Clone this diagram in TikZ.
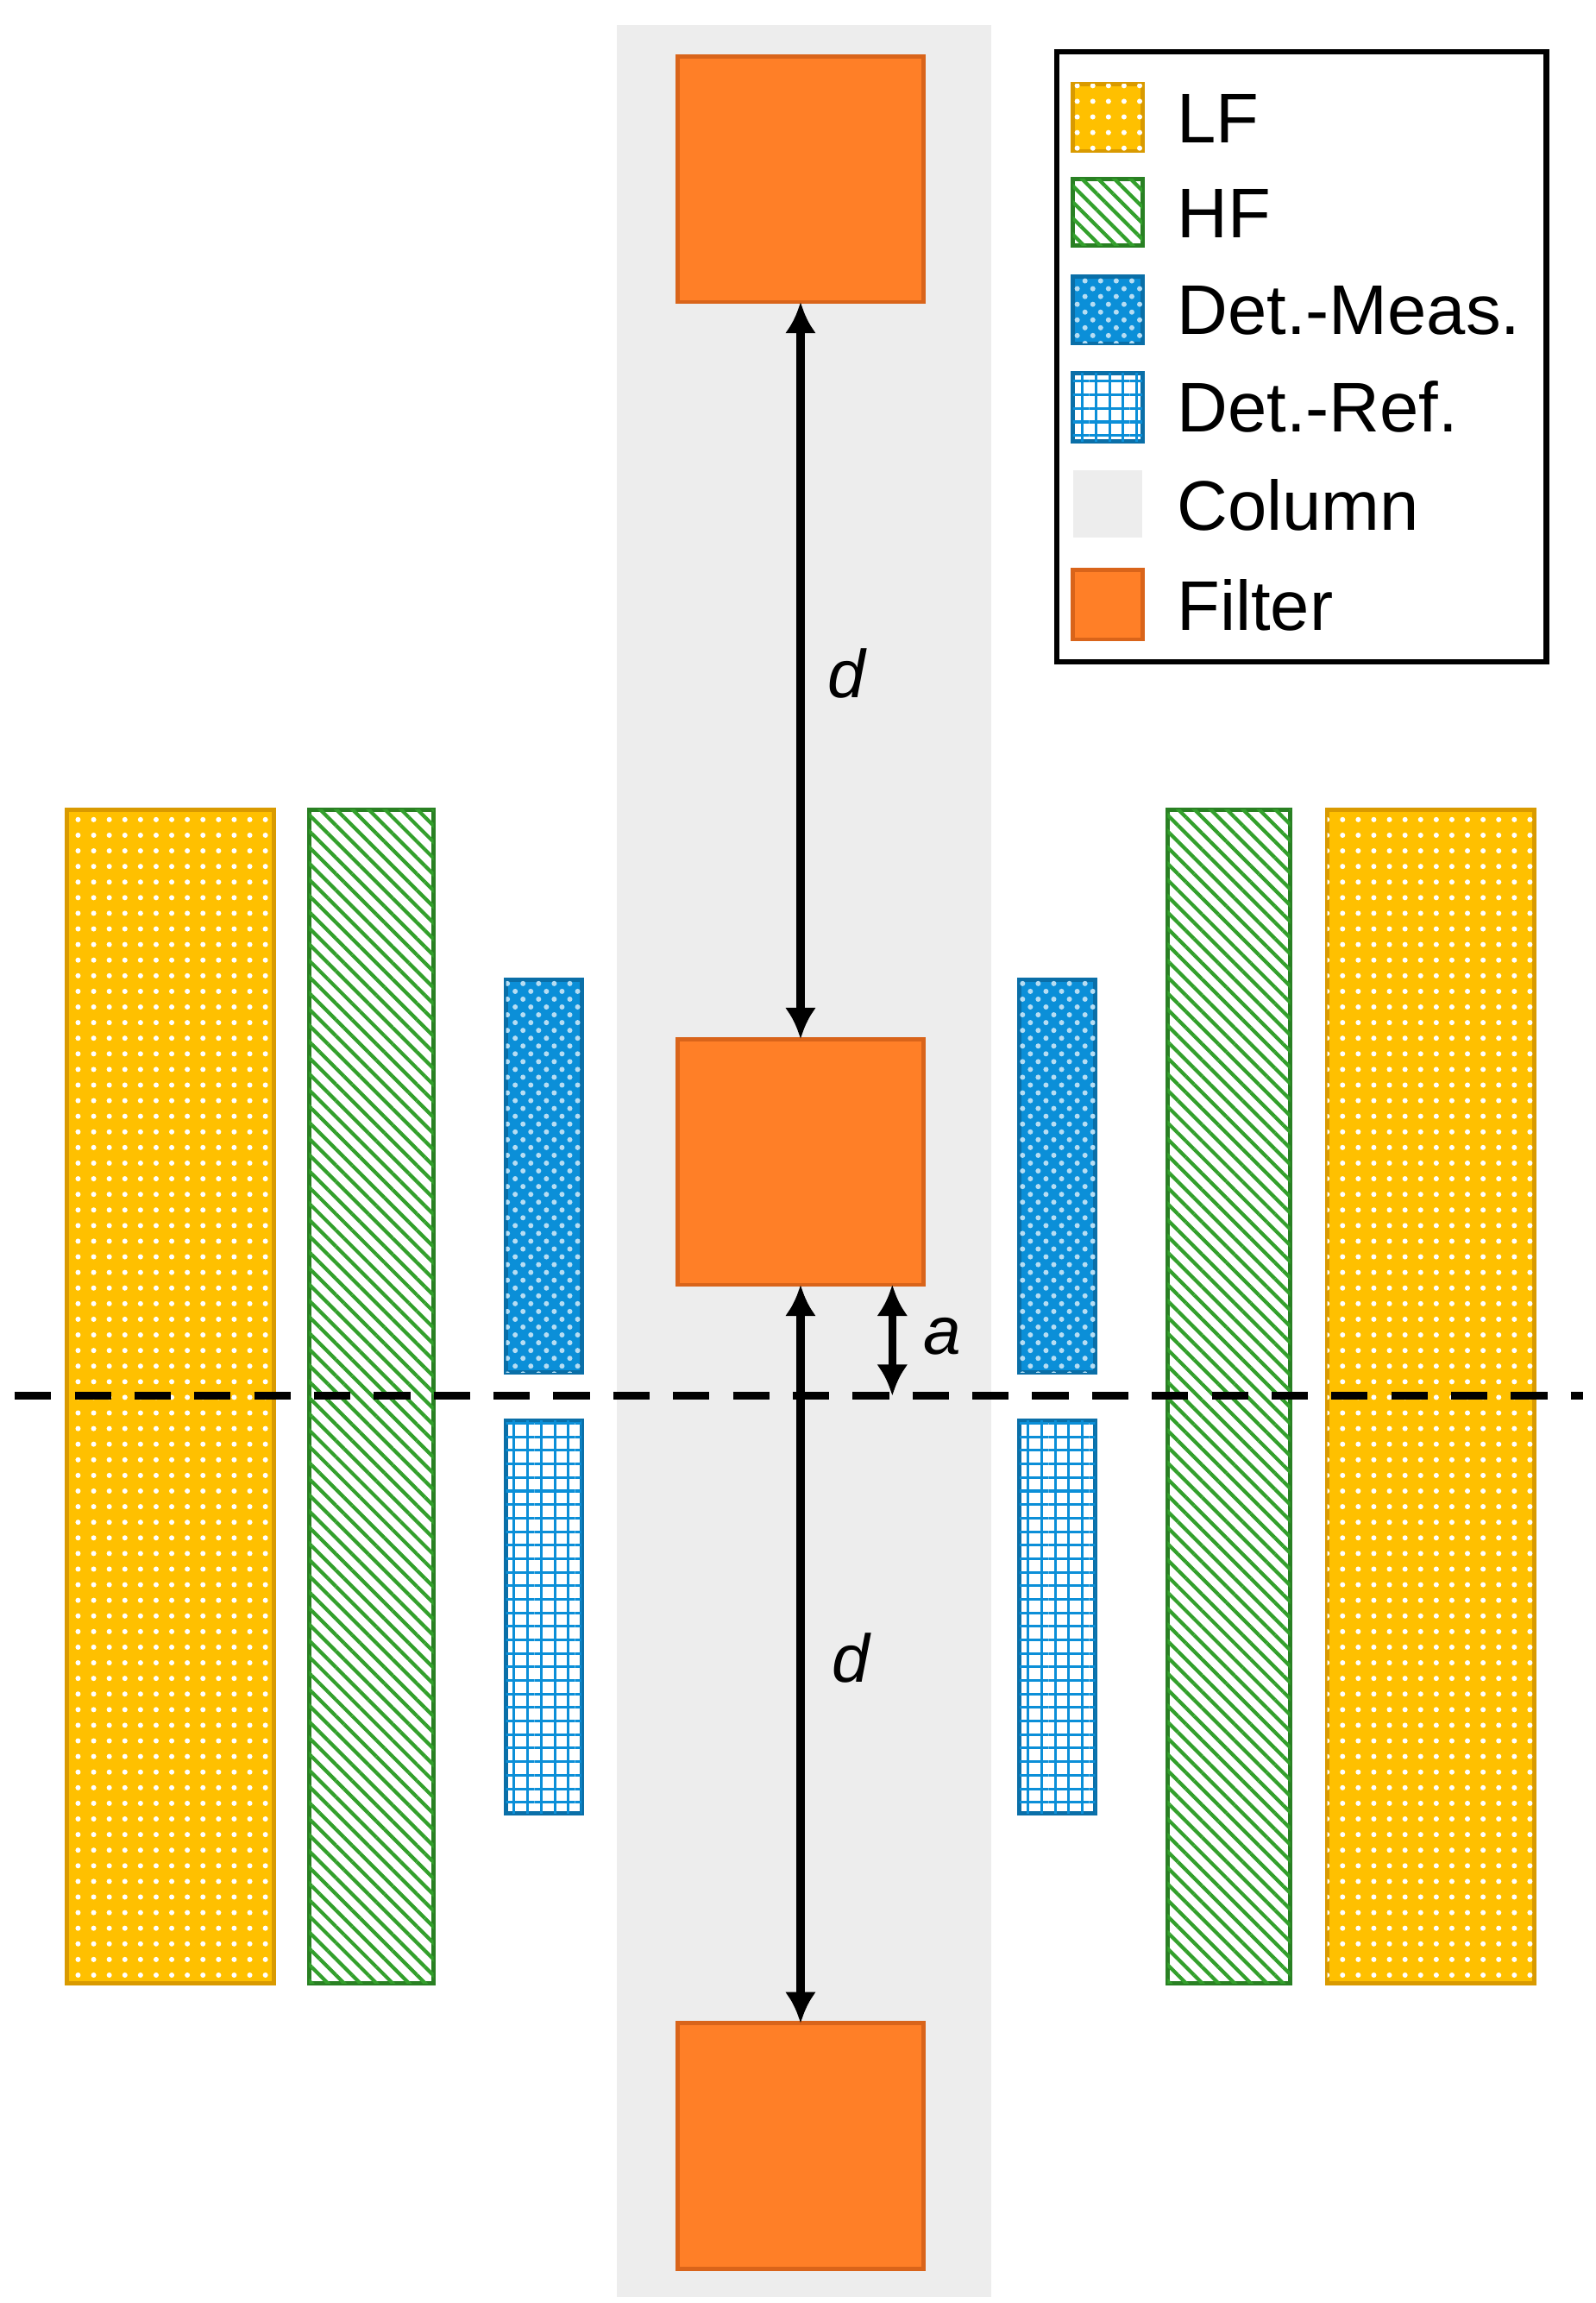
\documentclass[tikz,border=0pt]{standalone}
\usepackage{fontspec}
\setmainfont{Liberation Sans}
\usetikzlibrary{patterns,patterns.meta,arrows.meta}
\definecolor{lfc}{HTML}{FFC000}
\definecolor{lfd}{HTML}{D99A00}
\definecolor{hfc}{HTML}{33A02C}
\definecolor{detc}{HTML}{0B8FD8}
\definecolor{detd}{HTML}{0A6FA8}
\definecolor{colc}{HTML}{EDEDED}
\definecolor{filc}{HTML}{FF7F27}
\definecolor{fild}{HTML}{D9641A}
\begin{document}
\begin{tikzpicture}[x=0.01cm,y=-0.01cm,
  lf/.style={fill=lfc,draw=lfd,line width=0.8pt,postaction={pattern=dots,pattern color=white}},
  hf/.style={fill=white,draw=hfc!80!black,line width=0.8pt,postaction={pattern={Lines[angle=-45,distance=2.2pt,line width=0.7pt]},pattern color=hfc}},
  meas/.style={fill=detc,draw=detd,line width=0.8pt,postaction={pattern=crosshatch dots,pattern color=white!70!detc}},
  ref/.style={fill=white,draw=detd,line width=0.8pt,postaction={pattern={Lines[angle=0,distance=2.6pt,line width=0.5pt]},pattern color=detc},postaction={pattern={Lines[angle=90,distance=2.6pt,line width=0.5pt]},pattern color=detc}},
  col/.style={fill=colc,draw=none},
  fil/.style={fill=filc,draw=fild,line width=0.8pt},
  filn/.style={fil,minimum width=1.66cm,minimum height=1.66cm,inner sep=0,outer sep=0},
  dim/.style={{Latex[length=6pt,width=6pt]}-{Latex[length=6pt,width=6pt]},line width=1.6pt},
  lbl/.style={font=\fontsize{13}{15}\selectfont\itshape},
  legt/.style={anchor=west,font=\fontsize{13.5}{15}\selectfont}]
\useasboundingbox (0,0) rectangle (1078,1556);
\fill[col] (417,17) rectangle (670,1552);
\node[filn] (f1) at (541,121) {};
\node[filn] (f2) at (541,785) {};
\node[filn] (f3) at (541,1450) {};
\coordinate (at) at (603,868);
\coordinate (ab) at (603,943);
% side elements
\path[lf] (45,547) rectangle (185,1340);
\path[lf] (897,547) rectangle (1037,1340);
\path[hf] (209,547) rectangle (293,1340);
\path[hf] (789,547) rectangle (872,1340);
\path[meas] (342,662) rectangle (393,927);
\path[meas] (689,662) rectangle (740,927);
\path[ref] (342,960) rectangle (393,1225);
\path[ref] (689,960) rectangle (740,1225);
\coordinate (dl) at (10,943);
\coordinate (dr) at (1070,943);
\draw[line width=1.6pt,dash pattern=on 7pt off 4.5pt] (dl) -- (dr);
\draw[dim] (f1.south) -- (f2.north);
\draw[dim] (f2.south) -- (f3.north);
\draw[dim] (at) -- (ab);
\node[lbl] (d1) at (572,455) {d};
\node[lbl] (d2) at (575,1120) {d};
\node[lbl] (a1) at (637,903) {a};
% legend
\draw[line width=1pt,fill=white] (714,35) rectangle (1045,447);
\path[lf] (725,57) rectangle (772,102);
\path[hf] (725,121) rectangle (772,166);
\path[meas] (725,187) rectangle (772,232);
\path[ref] (725,252) rectangle (772,298);
\path[col] (725,318) rectangle (772,363);
\path[fil] (725,385) rectangle (772,432);
\node[legt] (l1) at (783,80) {LF};
\node[legt] (l2) at (783,144) {HF};
\node[legt] (l3) at (783,210) {Det.-Meas.};
\node[legt] (l4) at (783,275) {Det.-Ref.};
\node[legt] (l5) at (783,341) {Column};
\node[legt] (l6) at (783,409) {Filter};
\end{tikzpicture}
\end{document}
